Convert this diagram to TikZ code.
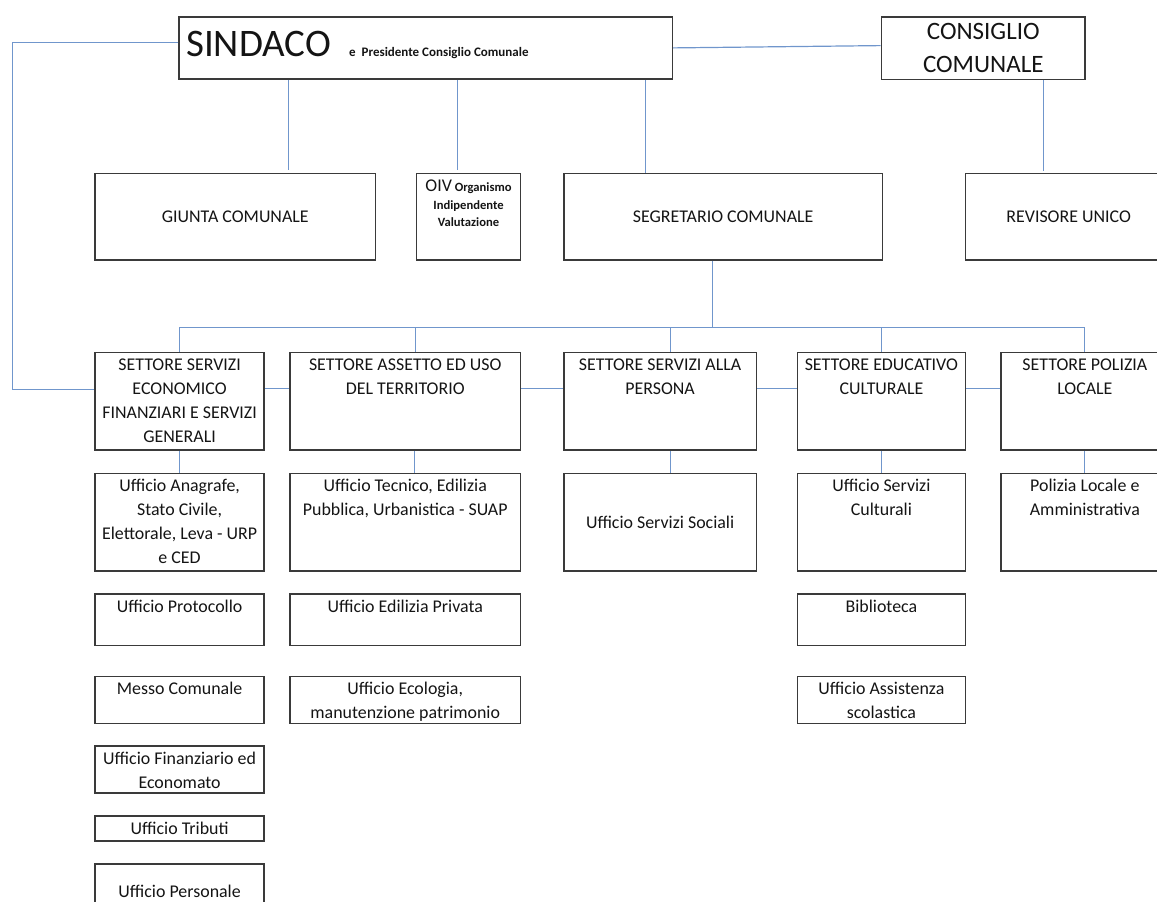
\documentclass[tikz,border=0pt]{standalone}
\usepackage{fontspec}
\setmainfont{Carlito}
\usepackage{xcolor}

\definecolor{linkblue}{RGB}{112,150,204}
\definecolor{boxgray}{RGB}{58,58,58}
\definecolor{txt}{RGB}{20,20,20}

% box contents: width, height, text (top aligned or centred)
\newcommand{\tbox}[3]{\parbox[c][#2pt][t]{#1pt}{\centering\rule{0pt}{18.5pt}#3}}
\newcommand{\cbox}[3]{\parbox[c][#2pt][c]{#1pt}{\centering #3}}

\tikzset{
  unit/.style={draw=boxgray, line width=1.5pt, inner sep=0pt, anchor=north west, text=txt},
  link/.style={draw=linkblue, line width=1.2pt}
}

\begin{document}
\begin{tikzpicture}[x=1pt, y=-1pt, font=\fontsize{17.9pt}{24pt}\selectfont]
        \useasboundingbox (0,0) rectangle (1157,902);
        \clip (0,0) rectangle (1157,902);

        \node[unit, minimum width=493.3pt, minimum height=62.3pt, text width=479pt, align=left, inner xsep=7pt, text height=25pt, text depth=8pt] (sindaco) at (178.3,16) {{\fontsize{39pt}{40pt}\selectfont SINDACO}\hspace{18pt}{\fontsize{13pt}{14pt}\selectfont\bfseries\spaceskip=3pt e\hspace{6pt}Presidente Consiglio Comunale}};
        \node[unit] (consiglio) at (880.6,16) {\cbox{203.8}{62.7}{\fontsize{25pt}{32.6pt}\selectfont CONSIGLIO\\COMUNALE}};

        \node[unit] (giunta) at (94.3,172.7) {\cbox{280.4}{86.3}{GIUNTA COMUNALE}};
        \node[unit] (oiv) at (415.8,172.7) {\tbox{103.9}{86.3}{\fontsize{12.6pt}{17.5pt}\selectfont\bfseries{\mdseries\fontsize{17.9pt}{17.5pt}\selectfont OIV} Organismo\\Indipendente\\Valutazione}};
        \node[unit] (segretario) at (563,172.7) {\cbox{318.8}{86.3}{SEGRETARIO COMUNALE}};
        \node[unit] (revisore) at (964.8,172.7) {\cbox{206.2}{86.3}{REVISORE UNICO}};

        \node[unit] (s1) at (94.3,351.7) {\tbox{169.1}{97.6}{SETTORE SERVIZI\\ECONOMICO\\FINANZIARI E SERVIZI\\GENERALI}};
        \node[unit] (s2) at (289.3,351.7) {\tbox{230.4}{97.6}{SETTORE ASSETTO ED USO\\DEL TERRITORIO}};
        \node[unit] (s3) at (563,351.7) {\tbox{192.7}{97.6}{SETTORE SERVIZI ALLA\\PERSONA}};
        \node[unit] (s4) at (796.5,351.7) {\tbox{168.3}{97.6}{SETTORE EDUCATIVO\\CULTURALE}};
        \node[unit] (s5) at (1000.2,351.7) {\tbox{167.8}{97.6}{SETTORE POLIZIA\\LOCALE}};

        \node[unit] (anagrafe) at (94.3,472.7) {\tbox{169.1}{97.3}{Ufficio Anagrafe,\\Stato Civile,\\Elettorale, Leva - URP\\e CED}};
        \node[unit] (tecnico) at (289.3,472.7) {\tbox{230.4}{97.3}{Ufficio Tecnico, Edilizia\\Pubblica, Urbanistica - SUAP}};
        \node[unit] (sociali) at (563,472.7) {\cbox{192.7}{97.3}{Ufficio Servizi Sociali}};
        \node[unit] (culturali) at (796.5,472.7) {\tbox{168.3}{97.3}{Ufficio Servizi\\Culturali}};
        \node[unit] (polizia) at (1000.2,472.7) {\tbox{167.8}{97.3}{Polizia Locale e\\Amministrativa}};

        \node[unit] (protocollo) at (94.3,593.3) {\tbox{169.1}{51.4}{Ufficio Protocollo}};
        \node[unit] (privata) at (289.3,593.3) {\tbox{230.4}{51.4}{Ufficio Edilizia Privata}};
        \node[unit] (biblioteca) at (796.5,593.3) {\tbox{168.3}{51.4}{Biblioteca}};
        \node[unit] (messo) at (94.3,675.7) {\tbox{169.1}{47}{Messo Comunale}};
        \node[unit] (ecologia) at (289.3,675.7) {\tbox{230.4}{47}{Ufficio Ecologia,\\manutenzione patrimonio}};
        \node[unit] (scolastica) at (796.5,675.7) {\tbox{168.3}{47}{Ufficio Assistenza\\scolastica}};
        \node[unit] (finanziario) at (94.3,745.3) {\tbox{169.1}{47}{Ufficio Finanziario ed\\Economato}};
        \node[unit] (tributi) at (94.3,815.3) {\tbox{169.1}{24.7}{Ufficio Tributi}};
        \node[unit] (personale) at (94.3,863.3) {\cbox{169.1}{55}{Ufficio Personale}};

        \coordinate (bus) at (0,327.5);

        \draw[link] ([yshift=5.5pt]sindaco.west) -| ([xshift=-82pt,yshift=12pt]s1.west) -- ([yshift=12pt]s1.west);
        \draw[link] (sindaco.east) -- ([yshift=2.5pt]consiglio.west);
        \draw[link] ([xshift=53pt]giunta.north |- sindaco.south) -- ([xshift=53pt,yshift=3pt]giunta.north);
        \draw[link] ([xshift=-11pt]oiv.north |- sindaco.south) -- ([xshift=-11pt,yshift=3pt]oiv.north);
        \draw[link] ([xshift=-78pt]segretario.north |- sindaco.south) -- ([xshift=-78pt]segretario.north);
        \draw[link] ([xshift=-25pt]revisore.north |- consiglio.south) -- ([xshift=-25pt,yshift=2pt]revisore.north);

        \draw[link] ([xshift=-11pt]segretario.south) -- ([xshift=-11pt]segretario.south |- bus);
        \draw[link] (s1.north) |- (bus -| s5.north) -- (s5.north);
        \foreach \s/\d in {s2/10, s3/10.6, s4/0}
            \draw[link] ([xshift=\d pt]\s.north) -- ([xshift=\d pt]\s.north |- bus);

        \foreach \a/\b in {s1/s2, s2/s3, s3/s4, s4/s5}
            \draw[link] ([yshift=13pt]\a.east) -- ([yshift=13pt]\b.west);

        \foreach \a/\b/\d in {s1/anagrafe/0, s2/tecnico/9, s3/sociali/10.6, s4/culturali/0, s5/polizia/0}
            \draw[link] ([xshift=\d pt]\a.south) -- ([xshift=\d pt]\b.north);
\end{tikzpicture}
\end{document}
